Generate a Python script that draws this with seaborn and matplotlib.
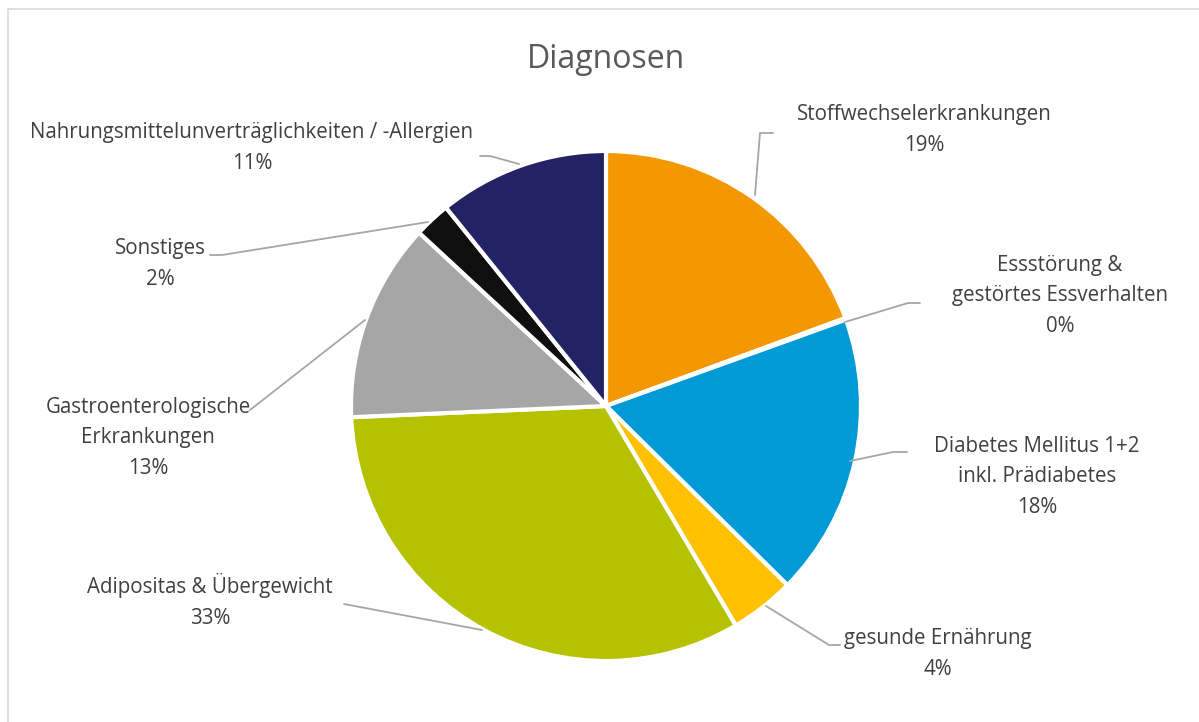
import matplotlib
matplotlib.use('Agg')
import matplotlib.pyplot as plt
import seaborn as sns
from matplotlib.patches import Rectangle

sns.set_theme(style='white')
plt.rcParams['font.family'] = ['Open Sans', 'DejaVu Sans']

# data (share in %)
categories = ['Stoffwechselerkrankungen', 'Essstörung &\ngestörtes Essverhalten',
              'Diabetes Mellitus 1+2\ninkl. Prädiabetes', 'gesunde Ernährung',
              'Adipositas & Übergewicht', 'Gastroenterologische\nErkrankungen',
              'Sonstiges', 'Nahrungsmittelunverträglichkeiten / -Allergien']
shares = [19.4, 0.1, 17.9, 4.1, 32.8, 12.6, 2.3, 10.8]
colors = ['#F39800', '#F0F0F0', '#009AD6', '#FFC000', '#B5C200', '#A6A6A6', '#0F0F0F', '#222264']

# label anchors and leader lines (pixel layout, y from top)
label_pos = [(924, 130), (1060, 296), (1037, 477), (938, 654),
             (210, 601), (148, 438), (160, 264), (252, 148)]
leaders = [[(755, 195), (760, 133), (773, 133)],
           [(845, 322), (908, 303), (920, 303)],
           [(850, 461), (893, 452), (907, 452)],
           [(766, 606), (829, 645), (840, 645)],
           [(482, 630), (344, 604)],
           [(365, 320), (250, 410)],
           [(428, 222), (222, 255), (210, 255)],
           [(519, 164), (490, 156), (480, 156)]]

W, H = 1199, 722
fig = plt.figure(figsize=(W / 100, H / 100), dpi=100)
ax = fig.add_axes([0, 0, 1, 1])

ax.pie(shares, colors=colors, startangle=90, counterclock=False,
       center=(606, H - 406), radius=255,
       wedgeprops=dict(edgecolor='white', linewidth=3))

ax.set_xlim(0, W)
ax.set_ylim(0, H)
ax.set_aspect('equal')
ax.axis('off')

# chart frame
ax.add_patch(Rectangle((8, -10), W, H - 9 + 10, fill=False, edgecolor='#D9D9D9', lw=1.2))

txt = '#404040'
for cat, s, (x, y), pts in zip(categories, shares, label_pos, leaders):
    ax.text(x, H - y, f'{cat}\n{round(s):.0f}%', ha='center', va='center',
            fontsize=14.8, color=txt, linespacing=1.58)
    ax.plot([p[0] for p in pts], [H - p[1] for p in pts], color='#A6A6A6', lw=1.3)

ax.text(606, H - 59, 'Diagnosen', ha='center', va='center', fontsize=23, color='#595959')

fig.savefig('out.png', dpi=100)
